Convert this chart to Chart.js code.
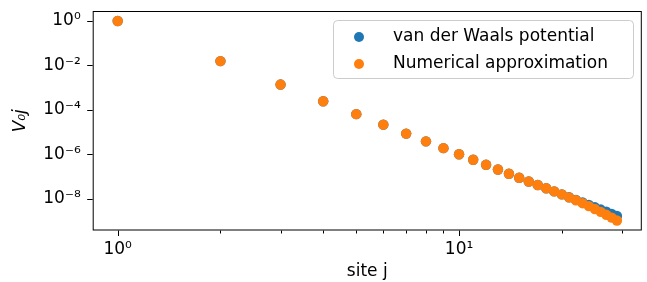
<!DOCTYPE html>
<html>
<head>
<meta charset="utf-8">
<script src="https://cdn.jsdelivr.net/npm/chart.js@4.4.1/dist/chart.umd.min.js"></script>
<style>
  html, body { margin: 0; padding: 0; background: #fff; }
  #wrap { width: 647px; height: 282px; }
</style>
</head>
<body>
<div id="wrap"><canvas id="chart" width="647" height="282"></canvas></div>
<script>
// Data
const sites = [1, 2, 3, 4, 5, 6, 7, 8, 9, 10, 11, 12, 13, 14, 15, 16, 17, 18, 19, 20,
               21, 22, 23, 24, 25, 26, 27, 28, 29];
const vdwValues = [1, 1.5625e-2, 1.3717e-3, 2.4414e-4, 6.4e-5, 2.1433e-5, 8.4999e-6, 3.8147e-6,
                   1.8817e-6, 1e-6, 5.6447e-7, 3.349e-7, 2.0718e-7, 1.3281e-7, 8.7791e-8, 5.9605e-8,
                   4.1427e-8, 2.9401e-8, 2.1256e-8, 1.5625e-8, 1.166e-8, 8.8182e-9, 6.7508e-9,
                   5.2265e-9, 4.096e-9, 3.2371e-9, 2.5812e-9, 2.0751e-9, 1.6811e-9];
const approxValues = [1, 1.5625e-2, 1.3717e-3, 2.4414e-4, 6.4e-5, 2.1433e-5, 8.4999e-6, 3.8147e-6,
                      1.8817e-6, 1e-6, 5.6447e-7, 3.349e-7, 2.0718e-7, 1.3281e-7, 8.7791e-8, 5.9605e-8,
                      4.1427e-8, 2.9401e-8, 2.1256e-8, 1.5625e-8, 1.15e-8, 8.55e-9, 6.28e-9,
                      4.65e-9, 3.44e-9, 2.56e-9, 1.88e-9, 1.41e-9, 1.04e-9];
const seriesLabels = ['van der Waals potential', 'Numerical approximation'];
const xMajorTicks = [1, 10];
const xMinorTicks = [2, 3, 4, 5, 6, 7, 8, 9, 20, 30];
const yMajorTicks = [1, 1e-2, 1e-4, 1e-6, 1e-8];

const FONT = "'DejaVu Sans', sans-serif";
const FONT_SIZE = 17;
const sup = { '0': '⁰', '1': '¹', '2': '²', '3': '³', '4': '⁴', '5': '⁵', '6': '⁶', '7': '⁷', '8': '⁸', '9': '⁹', '-': '⁻' };

function powLabel(v) {
    const e = Math.round(Math.log10(v));
    if (Math.abs(Math.log10(v) - e) > 1e-9) return '';
    return '10' + String(e).split('').map(c => sup[c]).join('');
}

function toPoints(ys) {
    return sites.map((x, i) => ({ x: x, y: ys[i] }));
}

// Frame, tick marks and legend box drawn on top
const framePlugin = {
    id: 'frame',
    afterDraw(chart) {
        const { ctx, chartArea: a } = chart;
        const xs = chart.scales.x, ys = chart.scales.y;
        ctx.save();
        ctx.strokeStyle = '#000';
        ctx.lineWidth = 1;
        ctx.strokeRect(a.left + 0.5, a.top + 0.5, a.right - a.left - 1, a.bottom - a.top - 1);

        // tick marks
        ctx.beginPath();
        xMajorTicks.concat(xMinorTicks).forEach(v => {
            const px = Math.round(xs.getPixelForValue(v)) + 0.5;
            if (px < a.left || px > a.right) return;
            const len = xMajorTicks.includes(v) ? 5.5 : 3;
            ctx.moveTo(px, a.bottom);
            ctx.lineTo(px, a.bottom + len);
        });
        yMajorTicks.forEach(v => {
            const py = Math.round(ys.getPixelForValue(v)) + 0.5;
            ctx.moveTo(a.left, py);
            ctx.lineTo(a.left - 5.5, py);
        });
        ctx.stroke();

        // legend
        const lx = 333, ly = 20, lw = 300, lh = 58;
        ctx.beginPath();
        ctx.roundRect(lx + 0.5, ly + 0.5, lw, lh, 4);
        ctx.fillStyle = 'rgba(255,255,255,0.8)';
        ctx.fill();
        ctx.strokeStyle = '#cccccc';
        ctx.stroke();
        ctx.font = FONT_SIZE + 'px ' + FONT;
        ctx.textBaseline = 'middle';
        chart.data.datasets.forEach((ds, i) => {
            const cy = ly + 17 + i * 27;
            ctx.beginPath();
            ctx.arc(lx + 26, cy, 5, 0, Math.PI * 2);
            ctx.fillStyle = ds.backgroundColor;
            ctx.fill();
            ctx.fillStyle = '#000';
            ctx.fillText(ds.label, lx + 60, cy);
        });
        ctx.restore();
    }
};

new Chart(document.getElementById('chart'), {
    type: 'scatter',
    data: {
        datasets: [
            { label: seriesLabels[0], data: toPoints(vdwValues), backgroundColor: '#1f77b4', borderWidth: 0, pointRadius: 5.2, order: 2 },
            { label: seriesLabels[1], data: toPoints(approxValues), backgroundColor: '#ff7f0e', borderWidth: 0, pointRadius: 5.2, order: 1 }
        ]
    },
    options: {
        responsive: false,
        animation: false,
        events: [],
        layout: { padding: { left: 0, right: 4, top: 11, bottom: 0 } },
        plugins: { legend: { display: false }, tooltip: { enabled: false } },
        scales: {
            x: {
                type: 'logarithmic',
                min: 0.845,
                max: 34.3,
                afterBuildTicks: s => { s.ticks = xMajorTicks.map(v => ({ value: v })); },
                afterFit: s => { s.height = 51.5; s.paddingLeft = 0; s.paddingRight = 0; },
                grid: { display: false, drawTicks: false },
                border: { display: false },
                ticks: {
                    autoSkip: false, maxRotation: 0, padding: 9,
                    color: '#000', font: { family: FONT, size: FONT_SIZE },
                    callback: v => powLabel(v)
                },
                title: {
                    display: true, text: 'site j', color: '#000',
                    font: { family: FONT, size: FONT_SIZE }, padding: { top: 0, bottom: 0 }
                }
            },
            y: {
                type: 'logarithmic',
                min: 3.7e-10,
                max: 2.81,
                afterBuildTicks: s => { s.ticks = yMajorTicks.map(v => ({ value: v })); },
                afterFit: s => { s.width = 92.7; s.paddingTop = 0; s.paddingBottom = 0; },
                grid: { display: false, drawTicks: false },
                border: { display: false },
                ticks: {
                    autoSkip: false, padding: 12,
                    color: '#000', font: { family: FONT, size: FONT_SIZE },
                    callback: v => powLabel(v)
                },
                title: {
                    display: true, text: 'V₀j', color: '#000',
                    font: { family: FONT, size: FONT_SIZE, style: 'italic' }, padding: { top: 10, bottom: 0 }
                }
            }
        }
    },
    plugins: [framePlugin]
});
</script>
</body>
</html>
